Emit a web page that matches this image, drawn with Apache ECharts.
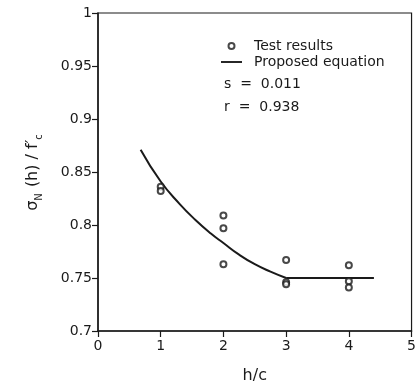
<!DOCTYPE html>
<html>
<head>
<meta charset="utf-8">
<script src="https://cdn.jsdelivr.net/npm/echarts@6/dist/echarts.min.js"></script>
<style>
  html, body { margin: 0; padding: 0; background: #fff; }
  #chart { width: 419px; height: 389px; }
</style>
</head>
<body>
<div id="chart"></div>
<script>
// test results (h/c, sigma_N(h)/f'c)
const testResults = [
  [1, 0.836], [1, 0.832],
  [2, 0.809], [2, 0.797], [2, 0.763],
  [3, 0.767], [3, 0.746], [3, 0.744],
  [4, 0.762], [4, 0.747], [4, 0.741],
]

// proposed equation (curved part, then flat part)
const curveH = [0.68, 1.0, 1.3, 1.55, 1.8, 2.0, 2.25, 2.5, 2.75, 3.0]
const curveV = [0.871, 0.841, 0.820, 0.805, 0.792, 0.783, 0.772, 0.763, 0.756, 0.750]
const flatH = [3.0, 4.4]
const flatV = [0.750, 0.750]

const statLines = ['s  =  0.011', 'r  =  0.938']

const font = 'DejaVu Sans'
const ink = '#1a1a1a'

const chart = echarts.init(document.getElementById('chart'), null, { renderer: 'canvas' })

chart.setOption({
  animation: false,
  backgroundColor: '#fff',
  textStyle: { fontFamily: font, color: ink },
  grid: {
    left: 98, right: 3, top: 13, bottom: 57,
    show: true, borderColor: ink, borderWidth: 1.2,
  },
  legend: {
    left: 216, top: 34,
    orient: 'vertical',
    itemGap: 2,
    itemWidth: 21, itemHeight: 6,
    textStyle: { fontFamily: font, fontSize: 14, color: ink, padding: [0, 0, 0, 7] },
    data: [
      { name: 'Test results', icon: 'emptyCircle' },
      { name: 'Proposed equation', icon: 'path://M0 0H20V1.8H0Z' },
    ],
  },
  graphic: statLines.map((t, i) => ({
    type: 'text', left: 224, top: 77 + i * 23,
    style: { text: t, fontFamily: font, fontSize: 14, fill: ink },
  })),
  xAxis: {
    type: 'value', min: 0, max: 5, interval: 1,
    name: 'h/c', nameLocation: 'middle', nameGap: 37,
    nameTextStyle: { fontFamily: font, fontSize: 16, color: ink },
    axisLine: { lineStyle: { color: ink, width: 1.5 } },
    axisTick: { length: 6, lineStyle: { color: ink, width: 1.2 } },
    axisLabel: { fontFamily: font, fontSize: 14, color: ink, margin: 8 },
    splitLine: { show: false },
  },
  yAxis: {
    type: 'value', min: 0.7, max: 1, interval: 0.05,
    name: '{t|σ}{s|N}{t| (h) / f′}{s|c}', nameLocation: 'middle', nameRotate: 90, nameGap: 54,
    nameTextStyle: {
      fontFamily: font, fontSize: 16, color: ink,
      rich: {
        t: { fontFamily: font, fontSize: 16, color: ink, lineHeight: 22, verticalAlign: 'middle' },
        s: { fontFamily: font, fontSize: 10, color: ink, lineHeight: 22, verticalAlign: 'bottom', padding: [0, 1, 0, 0] },
      },
    },
    axisLine: { lineStyle: { color: ink, width: 1.5 } },
    axisTick: { length: 6, lineStyle: { color: ink, width: 1.2 } },
    axisLabel: { fontFamily: font, fontSize: 14, color: ink, margin: 6 },
    splitLine: { show: false },
  },
  series: [
    {
      name: 'Test results', type: 'scatter',
      symbol: 'emptyCircle', symbolSize: 6,
      itemStyle: { color: ink, borderColor: ink, borderWidth: 1.2 },
      data: testResults,
      z: 3,
    },
    {
      name: 'Proposed equation', type: 'line',
      showSymbol: false, symbol: 'none',
      smooth: 0.5,
      lineStyle: { color: ink, width: 2 },
      itemStyle: { color: ink },
      data: curveH.map((h, i) => [h, curveV[i]]),
    },
    {
      name: 'Proposed equation', type: 'line',
      showSymbol: false, symbol: 'none',
      lineStyle: { color: ink, width: 2 },
      itemStyle: { color: ink },
      data: flatH.map((h, i) => [h, flatV[i]]),
    },
  ],
})
</script>
</body>
</html>
